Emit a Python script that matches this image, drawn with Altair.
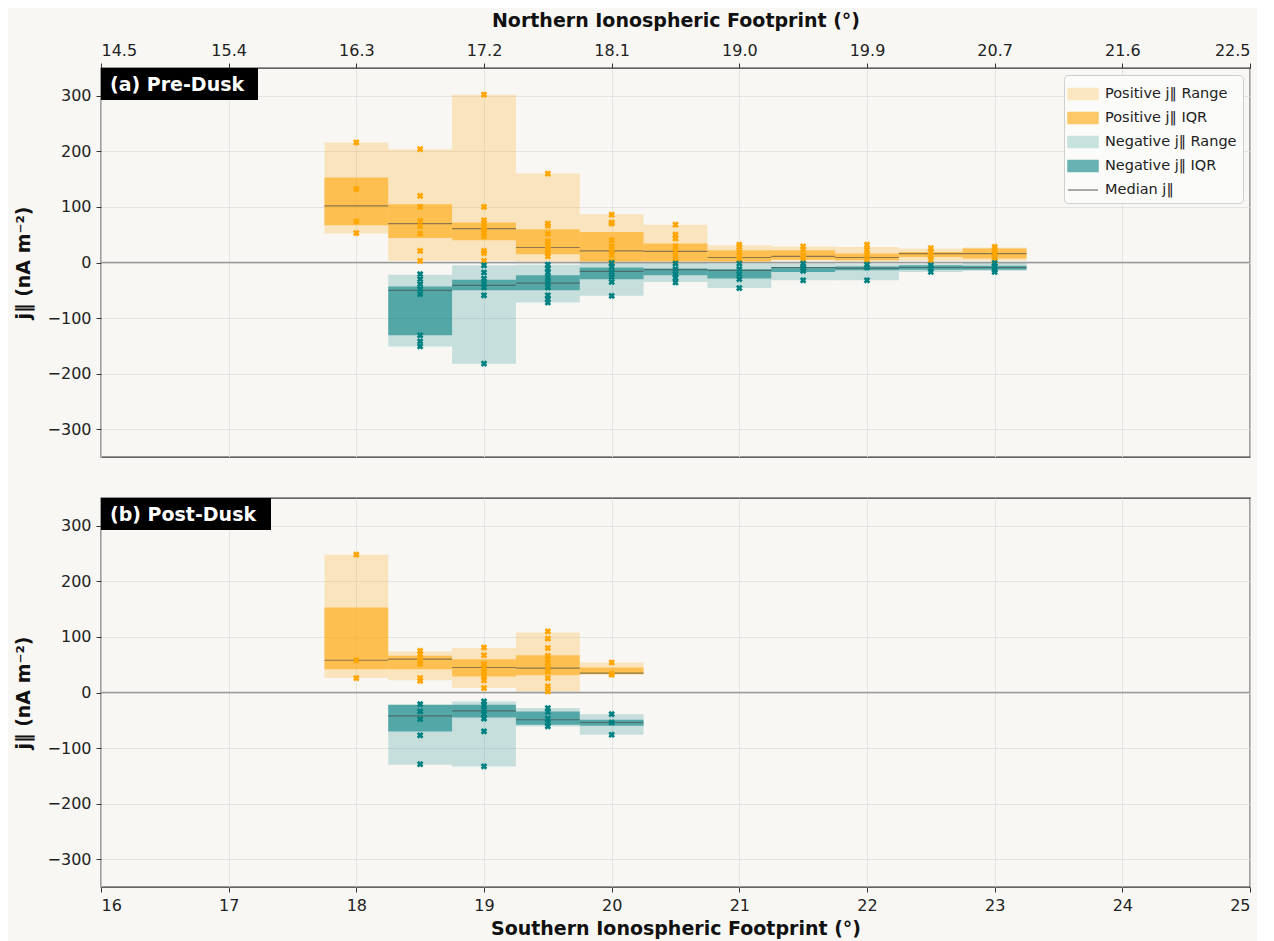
import altair as alt
import pandas as pd

# ---------------- data ----------------
SERIES = ["Positive j‖ Range", "Positive j‖ IQR", "Negative j‖ Range", "Negative j‖ IQR", "Median j‖"]
COLORS = ["#FFA500", "#FFA500", "#008080", "#008080", "#444444"]
OPAC = [0.22, 0.58, 0.2, 0.58, 0.6]

SOUTH_TICKS = [16, 17, 18, 19, 20, 21, 22, 23, 24, 25]
NORTH_LABELS = ["14.5", "15.4", "16.3", "17.2", "18.1", "19.0", "19.9", "20.7", "21.6", "22.5"]
Y_TICKS = [-300, -200, -100, 0, 100, 200, 300]
BIN_HALF = 0.25

# (a) Pre-Dusk, positive
PRE_POS_BINS = [18.0, 18.5, 19.0, 19.5, 20.0, 20.5, 21.0, 21.5, 22.0, 22.5, 23.0]
PRE_POS_MAX = [216, 204, 302, 160, 87, 68, 31, 29, 28, 25, 27]
PRE_POS_Q3 = [153, 105, 72, 60, 55, 34, 22, 22, 16, 19, 25]
PRE_POS_MED = [102, 70, 61, 27, 21, 20, 9, 11, 9, 16, 16]
PRE_POS_Q1 = [67, 44, 40, 15, 2, 2, 2, 5, 4, 10, 7]
PRE_POS_MIN = [52, 3, 3, 2, 1, 2, 2, 3, 2, 3, 3]
PRE_POS_PTS = [
    [216, 132, 74, 53],
    [204, 120, 100, 75, 65, 52, 21, 3],
    [302, 100, 76, 71, 65, 59, 53, 47, 21, 17, 3],
    [160, 70, 66, 52, 38, 29, 23, 17, 11],
    [86, 72, 70, 40, 29, 20, 14, 2],
    [68, 50, 43, 29, 20, 11, 2],
    [32, 28, 19, 12, 5],
    [29, 23, 13, 5],
    [32, 23, 14, 5],
    [26, 19, 12, 4],
    [28, 23, 16, 9, 3],
]
# (a) Pre-Dusk, negative
PRE_NEG_BINS = [18.5, 19.0, 19.5, 20.0, 20.5, 21.0, 21.5, 22.0, 22.5, 23.0]
PRE_NEG_MAX = [-22, -5, -4, -1, -1, -2, -2, -3, -3, -1]
PRE_NEG_Q3 = [-43, -31, -23, -9, -11, -12, -8, -7, -5, -6]
PRE_NEG_MED = [-50, -41, -37, -16, -13, -14, -9, -10, -9, -9]
PRE_NEG_Q1 = [-131, -50, -50, -30, -23, -29, -17, -14, -13, -13]
PRE_NEG_MIN = [-151, -182, -72, -60, -35, -46, -32, -32, -17, -15]
PRE_NEG_PTS = [
    [-21, -30, -39, -48, -57, -131, -142, -151],
    [-5, -18, -29, -38, -45, -59, -182],
    [-4, -11, -18, -27, -36, -45, -59, -66, -72],
    [-1, -8, -17, -26, -35, -60],
    [-2, -12, -21, -28, -36],
    [-2, -12, -21, -30, -46],
    [-2, -10, -15, -32],
    [-4, -9, -32],
    [-5, -11, -17],
    [-1, -7, -13, -17],
]

# (b) Post-Dusk, positive
POST_POS_BINS = [18.0, 18.5, 19.0, 19.5, 20.0]
POST_POS_MAX = [248, 74, 80, 108, 54]
POST_POS_Q3 = [153, 66, 60, 67, 45]
POST_POS_MED = [58, 60, 45, 44, 35]
POST_POS_Q1 = [42, 42, 29, 31, 33]
POST_POS_MIN = [26, 22, 8, 2, 33]
POST_POS_PTS = [
    [248, 58, 26],
    [75, 69, 63, 57, 51, 26, 21],
    [81, 67, 51, 44, 37, 29, 22, 8],
    [110, 97, 80, 66, 59, 53, 44, 38, 26, 11, 2],
    [54, 34, 32],
]
# (b) Post-Dusk, negative
POST_NEG_BINS = [18.5, 19.0, 19.5, 20.0]
POST_NEG_MAX = [-22, -16, -28, -39]
POST_NEG_Q3 = [-22, -22, -34, -49]
POST_NEG_MED = [-42, -33, -49, -54]
POST_NEG_Q1 = [-70, -45, -58, -60]
POST_NEG_MIN = [-130, -133, -61, -76]
POST_NEG_PTS = [
    [-21, -34, -48, -77, -129],
    [-16, -23, -31, -39, -47, -70, -133],
    [-28, -35, -47, -54, -61],
    [-39, -54, -76],
]

BG = "#f8f7f4"
FONT = "DejaVu Sans"


def boxes(bins, lo, hi, name):
    return [{"series": name, "lo": c - BIN_HALF, "hi": c + BIN_HALF, "bot": a, "top": b}
            for c, a, b in zip(bins, lo, hi)]


def medians(bins, med):
    return [{"series": SERIES[4], "lo": c - BIN_HALF, "hi": c + BIN_HALF, "med": m}
            for c, m in zip(bins, med)]


def points(bins, pts, sign):
    return [{"x": c, "v": v, "sign": sign} for c, vs in zip(bins, pts) for v in vs]


IS_MED = "datum.value === 'Median j‖'"
LEGEND = alt.Legend(
    title=None, orient="top-right", offset=7,
    symbolType={"expr": IS_MED + " ? 'M-1.25,0H1.25' : 'M-1.25,-0.46H1.25V0.46H-1.25Z'"},
    symbolSize=576,
    symbolStrokeColor={"expr": IS_MED + " ? '#9a9a9a' : 'transparent'"},
    symbolStrokeWidth=1.5,
    labelFont=FONT, labelFontSize=14.5, labelColor="#222222", labelOffset=9, labelLimit=300,
    fillColor="#fbfbf9", strokeColor="#cfcfcf", cornerRadius=4, padding=6, rowPadding=2,
)


def panel(label, box_w, pos, neg, top_axis, show_legend):
    (pb, pmin, pq1, pmed, pq3, pmax, ppts) = pos
    (nb, nmin, nq1, nmed, nq3, nmax, npts) = neg
    rng = pd.DataFrame(boxes(pb, pmin, pmax, SERIES[0]) + boxes(nb, nmin, nmax, SERIES[2]))
    iqr = pd.DataFrame(boxes(pb, pq1, pq3, SERIES[1]) + boxes(nb, nq1, nq3, SERIES[3]))
    med = pd.DataFrame(medians(pb, pmed) + medians(nb, nmed))
    pts = pd.DataFrame(points(pb, ppts, "pos") + points(nb, npts, "neg"))

    if top_axis:
        xaxis = alt.Axis(orient="top", values=SOUTH_TICKS, title="Northern Ionospheric Footprint (°)",
                         labelExpr="[" + ",".join("'%s'" % l for l in NORTH_LABELS) + "][round(datum.value) - 16]",
                         labelPadding=5, titlePadding=12)
    else:
        xaxis = alt.Axis(orient="bottom", values=SOUTH_TICKS, format="d",
                         title="Southern Ionospheric Footprint (°)", labelPadding=5, titlePadding=6)
    xs = alt.Scale(domain=[16, 25], nice=False, zero=False)
    ys = alt.Scale(domain=[-350, 350], nice=False)
    yaxis = alt.Axis(values=Y_TICKS, title="j‖ (nA m⁻²)", titlePadding=14, labelPadding=5)

    leg = LEGEND if show_legend else None
    color = alt.Color("series:N", scale=alt.Scale(domain=SERIES, range=COLORS), legend=leg)
    opac = alt.Opacity("series:N", scale=alt.Scale(type="ordinal", domain=SERIES, range=OPAC), legend=leg)

    base_x = alt.X("lo:Q", scale=xs, axis=xaxis)
    r1 = alt.Chart(rng).mark_rect().encode(
        x=base_x, x2="hi:Q", y=alt.Y("bot:Q", scale=ys, axis=yaxis), y2="top:Q",
        color=color, opacity=opac)
    r2 = alt.Chart(iqr).mark_rect().encode(
        x=base_x, x2="hi:Q", y=alt.Y("bot:Q", scale=ys, axis=yaxis), y2="top:Q",
        color=color, opacity=opac)
    zero = alt.Chart(pd.DataFrame({"y": [0]})).mark_rule(color="#9a9a9a", strokeWidth=1.5).encode(
        y=alt.Y("y:Q", scale=ys))
    mline = alt.Chart(med).mark_rule(strokeWidth=1.2).encode(
        x=alt.X("lo:Q", scale=xs), x2="hi:Q", y=alt.Y("med:Q", scale=ys),
        color=color, opacity=opac)
    pt = alt.Chart(pts).mark_point(shape="cross", angle=45, filled=True, size=46, opacity=1).encode(
        x=alt.X("x:Q", scale=xs), y=alt.Y("v:Q", scale=ys),
        fill=alt.Fill("sign:N", scale=alt.Scale(domain=["pos", "neg"], range=["#FFA500", "#008080"]), legend=None))
    lab = pd.DataFrame({"t": [label]})
    lbox = alt.Chart(lab).mark_rect(color="black").encode(
        x=alt.value(0), x2=alt.value(box_w), y=alt.value(0), y2=alt.value(32))
    ltxt = alt.Chart(lab).mark_text(align="left", baseline="middle", color="white", font=FONT,
                                     fontWeight="bold", fontSize=19).encode(
        x=alt.value(9), y=alt.value(17), text="t:N")
    return alt.layer(r1, r2, zero, mline, pt, lbox, ltxt).properties(width=1149, height=389)


top = panel("(a) Pre-Dusk", 157,
            (PRE_POS_BINS, PRE_POS_MIN, PRE_POS_Q1, PRE_POS_MED, PRE_POS_Q3, PRE_POS_MAX, PRE_POS_PTS),
            (PRE_NEG_BINS, PRE_NEG_MIN, PRE_NEG_Q1, PRE_NEG_MED, PRE_NEG_Q3, PRE_NEG_MAX, PRE_NEG_PTS),
            True, True)
bottom = panel("(b) Post-Dusk", 170,
               (POST_POS_BINS, POST_POS_MIN, POST_POS_Q1, POST_POS_MED, POST_POS_Q3, POST_POS_MAX, POST_POS_PTS),
               (POST_NEG_BINS, POST_NEG_MIN, POST_NEG_Q1, POST_NEG_MED, POST_NEG_Q3, POST_NEG_MAX, POST_NEG_PTS),
               False, False)

chart = alt.vconcat(top, bottom, spacing=39).resolve_scale(
    color="independent", opacity="independent", fill="independent"
).properties(
    background=BG, padding={"left": 5, "right": 5, "top": 2, "bottom": 2}
).configure_view(
    stroke="#333333", strokeWidth=1.3, fill=BG
).configure_axis(
    labelFont=FONT, labelFontSize=16, labelColor="#222222",
    titleFont=FONT, titleFontSize=19, titleFontWeight="bold", titleColor="#111111",
    tickColor="#333333", tickSize=5, domain=False,
    gridColor="#dedede", gridWidth=0.8,
)

chart.save("out.html", embed_options={"renderer": "svg", "actions": False})
